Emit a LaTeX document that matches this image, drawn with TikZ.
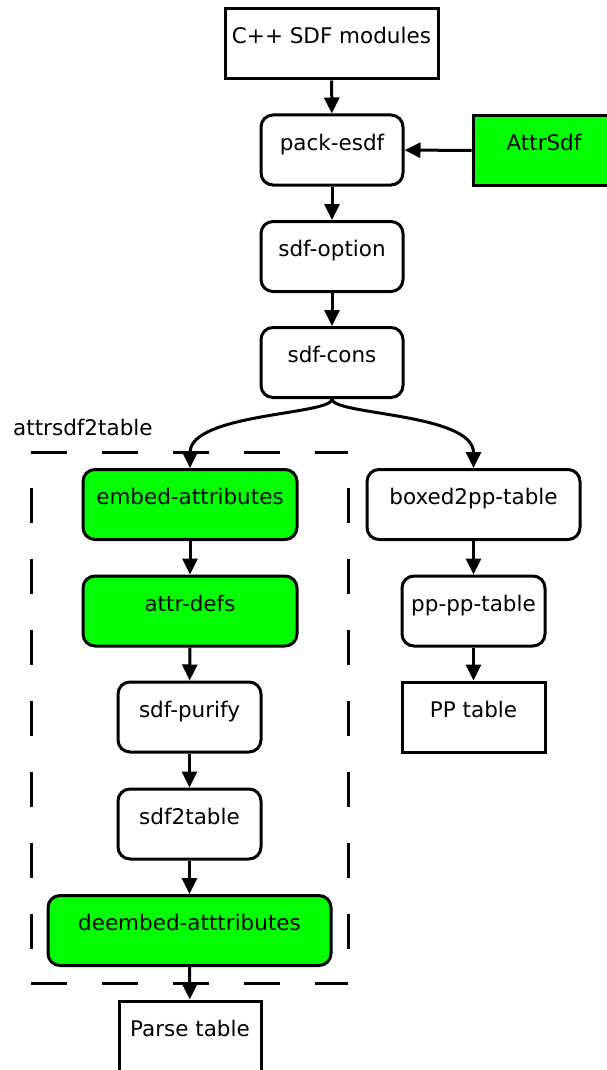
\documentclass[tikz,border=0pt]{standalone}
\usepackage{fontspec}
\setmainfont{DejaVu Sans}
\usetikzlibrary{arrows.meta}
\definecolor{boxgreen}{RGB}{0,255,0}
\begin{document}
\begin{tikzpicture}[x=1pt,y=-1pt,
  every node/.style={font=\fontsize{21.5}{25}\selectfont},
  base/.style={draw=black,line width=3pt,minimum height=70pt,inner sep=0pt,
    text height=15pt,text depth=15pt},
  sqbox/.style={base,rectangle},
  rbox/.style={base,rectangle,rounded corners=12pt},
  green/.style={fill=boxgreen},
  arr/.style={line width=3pt,-{Triangle[length=16pt,width=15pt]}},
  frame/.style={line width=3pt,dash pattern=on 35.5pt off 35.5pt}]
\useasboundingbox (0,0) rectangle (607,1070);
\begin{scope}
\clip (0,0) rectangle (607,1070);
% main column
\node[sqbox,minimum width=213pt] (cpp) at (331.5,44) {C++ SDF modules};
\node[rbox,minimum width=142pt] (pack) at (332,150) {pack-esdf};
\node[sqbox,green,minimum width=142pt] (attr) at (544,150.5) {AttrSdf};
\node[rbox,minimum width=142pt] (opt) at (332,256.5) {sdf-option};
\node[rbox,minimum width=142pt] (cons) at (332,362.5) {sdf-cons};
% attrsdf2table group
\node[anchor=base west,inner sep=0pt] (grp) at (13,435) {attrsdf2table};
\draw[frame] (31,452) -- (348,452);
\draw[frame] (31,983) -- (348,983);
\draw[frame,dash phase=35.5pt] (31,452) -- (31,983);
\draw[frame,dash phase=35.5pt] (348,452) -- (348,983);
\node[rbox,green,minimum width=214pt] (embed) at (190,504.5) {embed-attributes};
\node[rbox,green,minimum width=214pt] (defs) at (190,611) {attr-defs};
\node[rbox,minimum width=143pt] (purify) at (189.5,717) {sdf-purify};
\node[rbox,minimum width=143pt] (s2t) at (189.5,824) {sdf2table};
\node[rbox,green,minimum width=283pt] (deembed) at (189.5,930.5) {deembed-atttributes};
\node[sqbox,minimum width=142pt] (parse) at (190,1036) {Parse table};
% pretty-print branch
\node[rbox,minimum width=213pt] (boxed) at (473.5,504.5) {boxed2pp-table};
\node[rbox,minimum width=143pt] (pppp) at (473.5,611) {pp-pp-table};
\node[sqbox,minimum width=143pt] (pptab) at (473.5,717) {PP table};
% connectors
\draw[arr] (cpp) -- (pack);
\draw[arr] (attr) -- (pack);
\draw[arr] (pack) -- (opt);
\draw[arr] (opt) -- (cons);
\draw[arr] (cons.south) .. controls +(0,16) and +(0,-55) .. (embed.north);
\draw[arr] (cons.south) .. controls +(0,16) and +(0,-55) .. (boxed.north);
\draw[arr] (embed) -- (defs);
\draw[arr] (defs) -- (purify);
\draw[arr] (purify) -- (s2t);
\draw[arr] (s2t) -- (deembed);
\draw[arr] (deembed) -- (parse);
\draw[arr] (boxed) -- (pppp);
\draw[arr] (pppp) -- (pptab);
\end{scope}
\end{tikzpicture}
\end{document}
